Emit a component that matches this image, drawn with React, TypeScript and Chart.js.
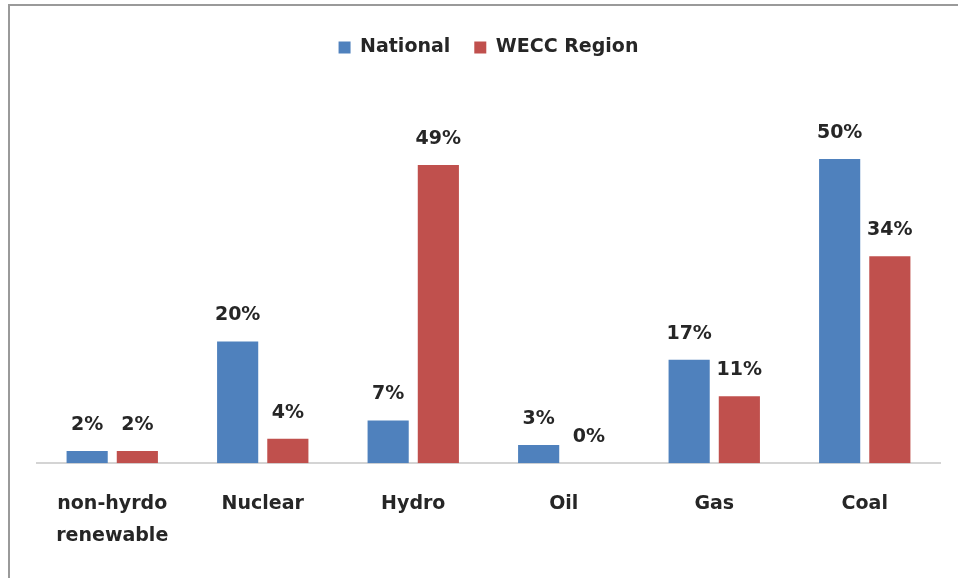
import React, { useEffect, useRef } from "react";
import { Chart, registerables } from "chart.js";

Chart.register(...registerables);

const categories: (string | string[])[] = [["non-hyrdo", "renewable"], "Nuclear", "Hydro", "Oil", "Gas", "Coal"];
const nationalValues = [2, 20, 7, 3, 17, 50];
const weccValues = [2, 4, 49, 0, 11, 34];
const seriesNames = ["National", "WECC Region"];

const FONT = "'DejaVu Sans', sans-serif";
const TEXT = "#262626";

const valueLabels = {
  id: "valueLabels",
  afterDatasetsDraw(chart: any) {
    const ctx = chart.ctx;
    ctx.save();
    ctx.font = `bold 19px ${FONT}`;
    ctx.fillStyle = TEXT;
    ctx.textAlign = "center";
    ctx.textBaseline = "middle";
    chart.data.datasets.forEach((ds: any, i: number) => {
      const meta = chart.getDatasetMeta(i);
      meta.data.forEach((el: any, j: number) => {
        ctx.fillText(`${ds.data[j]}%`, el.x, el.y - 26);
      });
    });
    ctx.restore();
  },
};

export default function App() {
  const ref = useRef<HTMLCanvasElement>(null);
  useEffect(() => {
    if (!ref.current) return;
    const chart = new Chart(ref.current, {
      type: "bar",
      data: {
        labels: categories,
        datasets: [
          { label: seriesNames[0], data: nationalValues, backgroundColor: "#4F81BD", borderWidth: 0 },
          { label: seriesNames[1], data: weccValues, backgroundColor: "#C0504D", borderWidth: 0 },
        ],
      },
      options: {
        responsive: false,
        animation: false,
        devicePixelRatio: 1,
        layout: { padding: { left: 37, right: 18, top: 14, bottom: 1 } },
        datasets: { bar: { barPercentage: 0.82, categoryPercentage: 0.667 } },
        plugins: {
          legend: {
            display: true,
            position: "top",
            labels: {
              boxWidth: 12,
              boxHeight: 12,
              padding: 24,
              color: TEXT,
              font: { family: FONT, size: 19, weight: "bold" },
            },
          },
          tooltip: { enabled: false },
        },
        scales: {
          x: {
            grid: { display: false, drawTicks: false },
            border: { display: true, color: "#D4D4D4", width: 2 },
            ticks: {
              color: TEXT,
              padding: 25,
              font: { family: FONT, size: 19, weight: "bold", lineHeight: 1.68 },
              maxRotation: 0,
              autoSkip: false,
            },
          },
          y: { display: false, min: 0, max: 65.1 },
        },
      },
      plugins: [valueLabels],
    });
    return () => chart.destroy();
  }, []);
  return (
    <div style={{ position: "fixed", left: 0, top: 0, width: 958, height: 578, background: "#fff", overflow: "hidden" }}>
      <canvas ref={ref} width={958} height={578} style={{ position: "absolute", left: 0, top: 0 }} />
      <div style={{ position: "absolute", left: 8, top: 4, width: 960, height: 580, borderLeft: "2px solid #9a9a9a", borderTop: "2px solid #9a9a9a", pointerEvents: "none" }} />
    </div>
  );
}
